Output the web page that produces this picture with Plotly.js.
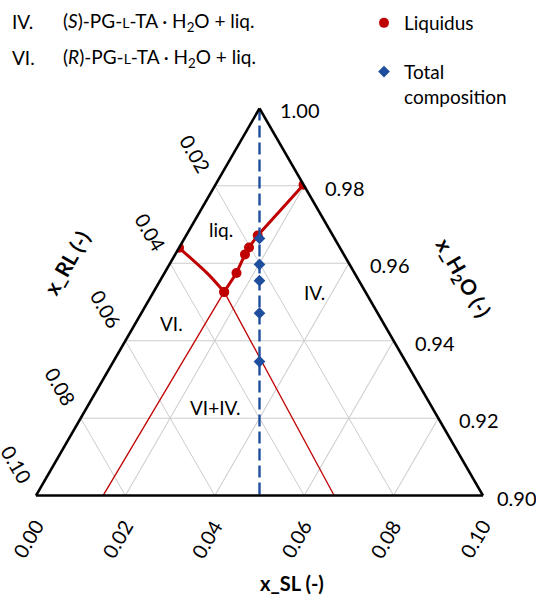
<!DOCTYPE html>
<html><head><meta charset="utf-8">
<script src="https://cdn.plot.ly/plotly-3.0.1.min.js"></script>
<style>html,body{margin:0;padding:0;background:#fff;} #chart{width:536px;height:596px;}</style>
</head><body><div id="chart"></div>
<script>
// ---------- data (a = x_H2O, b = x_RL, c = x_SL) ----------
// Liquidus, branch from binary (S) side to the eutectic point
const liqR_H2O = [0.9803, 0.9672, 0.9641, 0.9623, 0.9575, 0.9526];
const liqR_RL  = [0.0000, 0.0168, 0.0203, 0.0221, 0.0264, 0.0316];
const liqR_SL  = [0.0197, 0.0160, 0.0156, 0.0156, 0.0161, 0.0158];
// Liquidus, branch from binary (R) side to the eutectic point (middle value has no marker)
const liqL_H2O = [0.9640, 0.9572, 0.9526];
const liqL_RL  = [0.0360, 0.0329, 0.0316];
const liqL_SL  = [0.0000, 0.0099, 0.0158];
const liqL_marked = [true, false, true];
// Tie lines from the eutectic point
const tieL_H2O = [0.9526, 0.9000];
const tieL_RL  = [0.0316, 0.0850];
const tieL_SL  = [0.0158, 0.0150];
const tieR_H2O = [0.9526, 0.9000];
const tieR_RL  = [0.0316, 0.0333];
const tieR_SL  = [0.0158, 0.0667];
// Total compositions
const tot_H2O = [0.9664, 0.9597, 0.9555, 0.9471, 0.9346];
const tot_RL  = [0.0168, 0.02015, 0.02225, 0.02645, 0.0327];
const tot_SL  = [0.0168, 0.02015, 0.02225, 0.02645, 0.0327];
// Racemic line x_SL = x_RL
const rac_H2O = [1.00, 0.90];
const rac_RL  = [0.00, 0.05];
const rac_SL  = [0.00, 0.05];
// Tick labels
const h2oTicks = [0.90, 0.92, 0.94, 0.96, 0.98, 1.00];
const rlTicks  = [0.02, 0.04, 0.06, 0.08, 0.10];
const slTicks  = [0.00, 0.02, 0.04, 0.06, 0.08, 0.10];
// Region labels
const regionNames = ['liq.', 'VI.', 'IV.', 'VI+IV.'];

// ---------- geometry helpers ----------
const W = 536, H = 596;
const M = {l: 36, r: 53, t: 108, b: 100, autoexpand: false};
const PW = W - M.l - M.r, PH = H - M.t - M.b;
const triW = Math.min(PW, PH * 2 / Math.sqrt(3));
const triH = triW * Math.sqrt(3) / 2;
const x0 = (PW - triW) / 2, y0 = (PH - triH) / 2;
const AMIN = 0.9, SPAN = 0.1;
function tern2paper(a, b, c) {
  const an = (a - AMIN) / SPAN, cn = c / SPAN;
  const px = x0 + cn * triW + an * triW / 2;
  const py = y0 + an * triH;
  return [px / PW, py / PH];
}
function px2paper(x, y) { return [(x - M.l) / PW, (H - M.b - y) / PH]; }

const RED = '#C00000', BLUE = '#1F4E9E', FONT = 'Lato, "Open Sans", sans-serif';

// ---------- traces ----------
const traces = [];
traces.push({type: 'scatterternary', mode: 'lines', a: tieL_H2O, b: tieL_RL, c: tieL_SL,
  line: {color: RED, width: 1.3}, showlegend: false, hoverinfo: 'skip'});
traces.push({type: 'scatterternary', mode: 'lines', a: tieR_H2O, b: tieR_RL, c: tieR_SL,
  line: {color: RED, width: 1.3}, showlegend: false, hoverinfo: 'skip'});
traces.push({type: 'scatterternary', mode: 'lines', a: liqR_H2O, b: liqR_RL, c: liqR_SL,
  line: {color: RED, width: 3}, showlegend: false});
traces.push({type: 'scatterternary', mode: 'lines', a: liqL_H2O, b: liqL_RL, c: liqL_SL,
  line: {color: RED, width: 3, shape: 'spline', smoothing: 0.8}, showlegend: false});
const mA = liqR_H2O.concat(liqL_H2O.filter((v, i) => liqL_marked[i]));
const mB = liqR_RL.concat(liqL_RL.filter((v, i) => liqL_marked[i]));
const mC = liqR_SL.concat(liqL_SL.filter((v, i) => liqL_marked[i]));
traces.push({type: 'scatterternary', mode: 'markers', name: 'Liquidus', a: mA, b: mB, c: mC,
  marker: {color: RED, size: 10, symbol: 'circle'}, legendgroup: 'g1'});
traces.push({type: 'scatterternary', mode: 'lines', a: rac_H2O, b: rac_RL, c: rac_SL,
  line: {color: BLUE, width: 2.4, dash: '12px,5px'}, showlegend: false, hoverinfo: 'skip'});
traces.push({type: 'scatterternary', mode: 'markers', name: 'Total<br>composition',
  a: tot_H2O, b: tot_RL, c: tot_SL,
  marker: {color: BLUE, size: 9, symbol: 'diamond'}, legendgroup: 'g2'});

// ---------- annotations ----------
const ann = [];
const tickFont = {family: FONT, size: 20, color: '#000'};
h2oTicks.forEach(v => {
  const p = tern2paper(v, 0, 1 - v);
  ann.push({x: p[0], y: p[1], xref: 'paper', yref: 'paper', text: v.toFixed(2), showarrow: false,
    xanchor: 'left', yanchor: 'middle', xshift: v === 0.9 ? 12 : 19, yshift: -2, font: tickFont});
});
rlTicks.forEach(v => {
  const p = tern2paper(1 - v, v, 0);
  ann.push({x: p[0], y: p[1], xref: 'paper', yref: 'paper', text: v.toFixed(2), showarrow: false,
    xanchor: 'center', yanchor: 'middle', xshift: -19.5, yshift: 31.5, textangle: 60, font: tickFont});
});
slTicks.forEach(v => {
  const p = tern2paper(AMIN, SPAN - v, v);
  ann.push({x: p[0], y: p[1], xref: 'paper', yref: 'paper', text: v.toFixed(2), showarrow: false,
    xanchor: 'center', yanchor: 'middle', xshift: -8.5, yshift: -43, textangle: -60, font: tickFont});
});
function addPx(x, y, text, opts) {
  const p = px2paper(x, y);
  ann.push(Object.assign({x: p[0], y: p[1], xref: 'paper', yref: 'paper', text: text, showarrow: false,
    xanchor: 'center', yanchor: 'middle'}, opts));
}
const titleFont = {family: FONT, size: 21, color: '#000'};
addPx(66.5, 262.5, '<b>x_RL (-)</b>', {textangle: -60, font: titleFont});
addPx(463, 277.5, '<b>x_H<sub>2</sub>O (-)</b>', {textangle: 60, font: titleFont});
addPx(292, 582.5, '<b>x_SL (-)</b>', {font: {family: FONT, size: 20, color: '#000'}});

const regFont = {family: FONT, size: 19, color: '#000'};
const regPos = [[221, 229], [171, 323], [314, 292], [215, 407]];
regionNames.forEach((t, i) => addPx(regPos[i][0], regPos[i][1], t, {font: regFont}));

const topFont = {family: FONT, size: 19, color: '#000'};
const sc = '<span style="font-size:14px">L</span>';
addPx(10, 22, 'IV.', {xanchor: 'left', font: topFont});
addPx(61, 22, '(<i>S</i>)-PG-' + sc + '-TA · H<sub>2</sub>O + liq.', {xanchor: 'left', font: topFont});
addPx(10, 57.5, 'VI.', {xanchor: 'left', font: topFont});
addPx(61, 57.5, '(<i>R</i>)-PG-' + sc + '-TA · H<sub>2</sub>O + liq.', {xanchor: 'left', font: topFont});

const axCommon = {showticklabels: false, ticks: '', linecolor: '#000', linewidth: 2.6,
  gridcolor: '#cccccc', gridwidth: 1, dtick: 0.02, title: {text: ''}};
const legPos = px2paper(364, 4);
const layout = {
  width: W, height: H, margin: M, paper_bgcolor: '#fff',
  font: {family: FONT, size: 19, color: '#000'},
  ternary: {
    sum: 1, bgcolor: 'rgba(0,0,0,0)', domain: {x: [0, 1], y: [0, 1]},
    aaxis: Object.assign({}, axCommon, {min: AMIN, tick0: 0.9}),
    baxis: Object.assign({}, axCommon, {min: 0, tick0: 0}),
    caxis: Object.assign({}, axCommon, {min: 0, tick0: 0})
  },
  showlegend: true,
  legend: {x: legPos[0], y: legPos[1], xanchor: 'left', yanchor: 'top', bgcolor: 'rgba(0,0,0,0)',
    font: {family: FONT, size: 19, color: '#000'}, valign: 'top', traceorder: 'grouped', tracegroupgap: 21},
  annotations: ann
};
Plotly.newPlot('chart', traces, layout, {displayModeBar: false, staticPlot: true});
</script></body></html>
